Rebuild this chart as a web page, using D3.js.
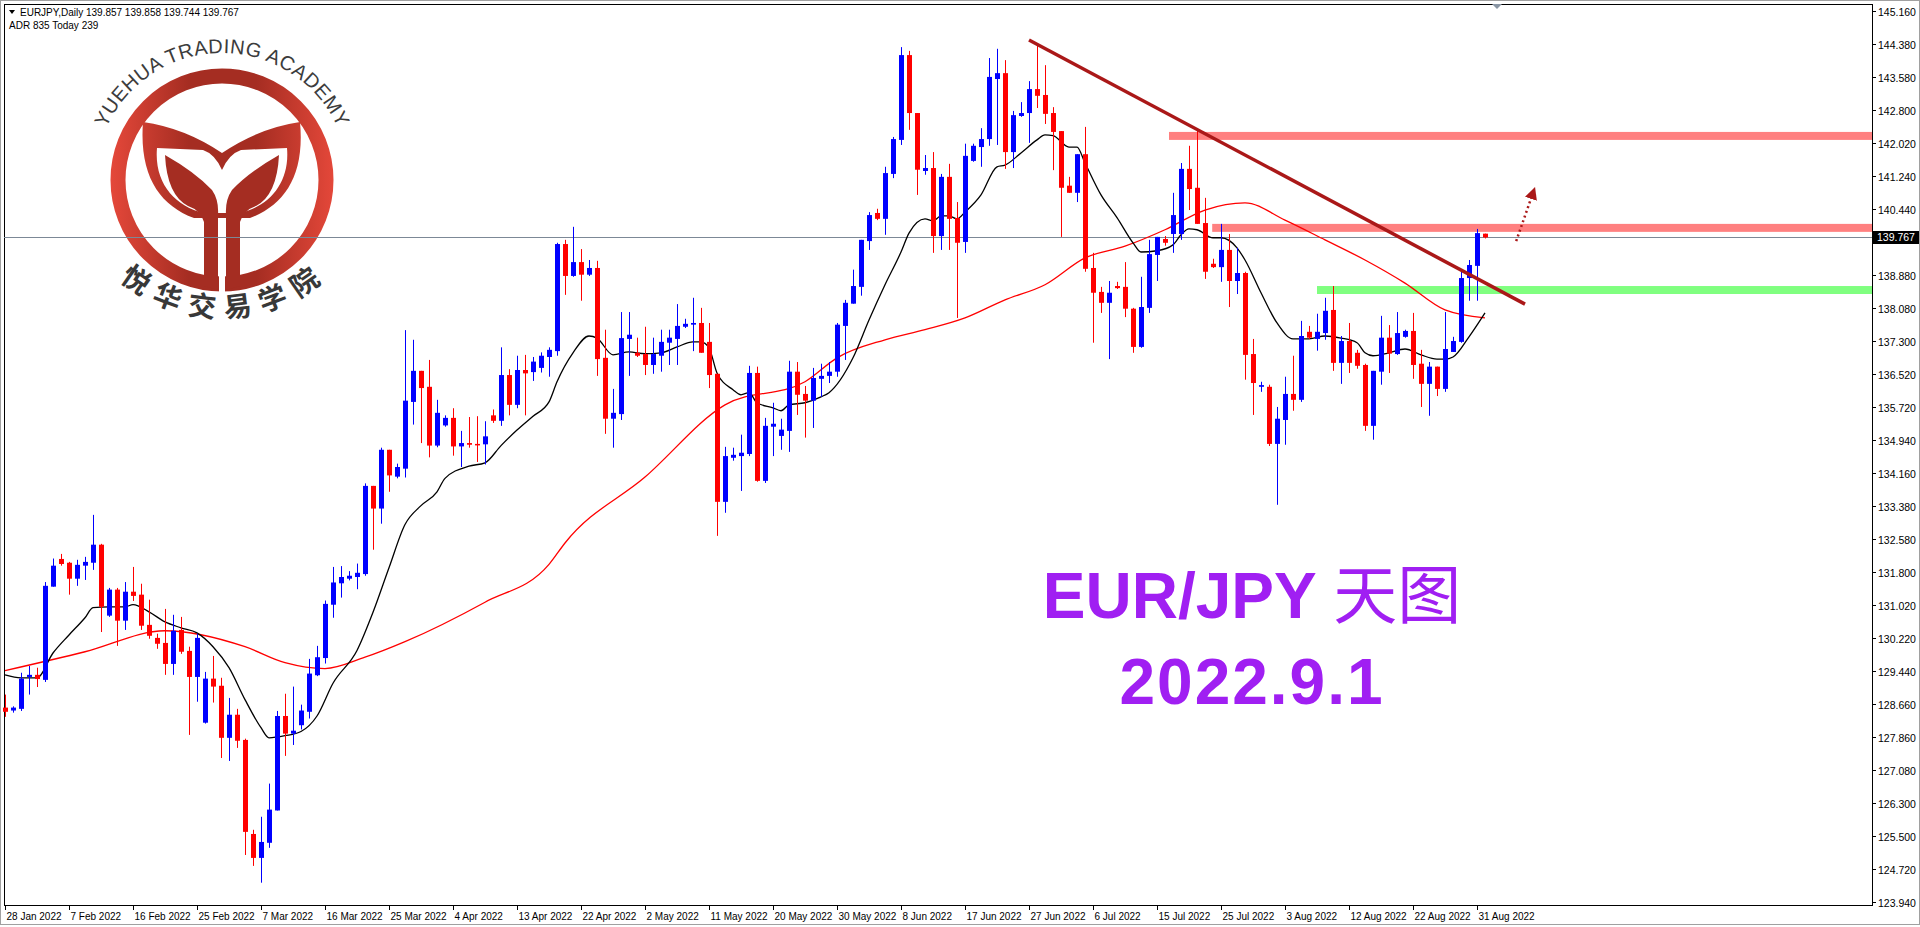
<!DOCTYPE html>
<html>
<head>
<meta charset="utf-8">
<script src="https://cdn.jsdelivr.net/npm/d3@7"></script>
<style>
  body { margin: 0; background: #fff; overflow: hidden; }
  svg { display: block; }
  text { font-family: "Liberation Sans", Arial, sans-serif; }
</style>
</head>
<body>
<script>
// daily candles, [open, high, low, close]
var ohlc = [
[128.57,128.88,128.35,128.47],[128.50,128.60,128.45,128.57],[128.54,129.40,128.49,129.26],[129.30,129.56,128.88,129.35],
[129.35,129.52,129.06,129.25],[129.23,131.56,129.18,131.47],[131.45,132.12,131.45,131.95],[132.11,132.23,131.95,131.99],
[132.02,132.04,131.26,131.64],[131.64,132.09,131.47,131.97],[131.95,132.16,131.61,132.04],[132.02,133.16,131.85,132.45],
[132.45,132.47,130.37,130.97],[130.76,131.42,130.73,131.38],[131.38,131.42,130.04,130.64],[130.64,131.56,130.42,131.33],
[131.33,131.92,131.11,131.23],[131.26,131.52,130.42,130.52],[130.54,131.14,130.21,130.28],[130.23,130.33,129.97,130.09],
[130.11,130.92,129.35,129.61],[129.61,130.78,129.35,130.40],[130.42,130.73,129.85,129.90],[129.92,130.02,127.92,129.30],
[129.30,130.33,128.71,130.23],[128.21,129.42,128.19,129.26],[129.26,129.80,128.69,129.07],[129.09,129.28,127.37,127.85],
[127.85,128.80,127.30,128.40],[128.40,128.54,127.61,127.78],[127.80,127.83,125.06,125.61],[125.56,125.66,124.80,124.99],
[124.99,125.97,124.40,125.37],[125.35,126.76,125.23,126.14],[126.12,128.49,126.12,128.37],[128.37,128.90,127.42,127.95],
[127.95,129.07,127.68,128.02],[128.15,128.64,128.05,128.50],[128.47,129.73,128.31,129.38],[129.34,130.04,129.32,129.77],
[129.75,131.12,129.62,131.04],[131.02,131.92,130.71,131.55],[131.53,131.94,131.19,131.68],[131.64,131.82,131.60,131.71],
[131.68,132.00,131.39,131.78],[131.75,133.91,131.71,133.85],[133.85,133.85,132.33,133.31],[133.31,134.76,132.95,134.71],
[134.71,134.71,133.71,134.10],[134.07,134.38,134.03,134.30],[134.26,137.56,134.05,135.88],[135.85,137.33,135.31,136.59],
[136.59,136.59,134.87,136.18],[136.21,136.85,134.53,134.81],[134.81,135.90,134.77,135.59],[135.29,135.53,135.26,135.47],
[135.47,135.70,134.57,134.79],[134.79,135.16,134.30,134.87],[134.87,135.49,134.76,134.83],[134.85,135.51,134.42,134.83],
[134.84,135.39,134.36,135.03],[135.53,135.67,135.35,135.40],[135.40,137.15,135.28,136.49],[136.49,136.63,135.53,135.78],
[135.78,136.95,135.70,136.61],[136.61,136.97,135.53,136.53],[136.56,136.92,136.35,136.81],[136.66,137.03,136.55,136.95],
[136.92,137.15,136.45,137.09],[137.06,139.64,136.95,139.61],[139.61,139.71,138.40,138.85],[138.85,140.02,138.83,139.18],
[139.18,139.49,138.26,138.88],[138.88,139.23,138.85,139.04],[139.04,139.21,136.47,136.87],[136.90,137.57,135.09,135.45],
[135.45,136.16,134.76,135.59],[135.56,137.99,135.42,137.37],[137.35,137.99,136.47,137.45],[137.02,137.38,136.92,136.95],
[136.99,137.64,136.49,136.73],[136.73,137.38,136.52,136.99],[136.95,137.57,136.57,137.28],[137.26,137.57,136.73,137.38],
[137.35,138.18,136.73,137.66],[137.64,137.83,137.61,137.71],[137.69,138.33,137.06,137.73],[137.73,138.09,137.02,137.02],
[137.28,137.73,136.18,136.49],[136.52,136.52,132.66,133.47],[133.47,134.78,133.21,134.56],[134.52,134.76,134.45,134.59],
[134.56,135.07,133.73,134.64],[134.61,136.71,134.56,136.54],[136.54,136.69,133.95,133.97],[133.97,135.47,133.92,135.28],
[135.26,135.83,134.56,135.33],[135.04,135.45,134.71,135.19],[135.16,136.83,134.66,136.57],[136.57,136.80,135.54,136.02],
[136.04,136.23,135.00,135.88],[135.88,136.66,135.23,136.42],[136.40,136.76,135.97,136.47],[136.47,136.80,136.30,136.57],
[136.57,137.73,136.45,137.69],[137.66,138.28,136.85,138.21],[138.19,139.00,138.19,138.61],[138.59,139.71,138.38,139.71],
[139.68,140.37,139.47,140.30],[140.35,140.45,140.18,140.21],[140.21,141.45,139.83,141.30],[141.28,142.16,141.18,142.11],
[142.09,144.30,141.97,144.11],[144.11,144.21,142.33,142.73],[142.73,142.73,140.78,141.38],[141.35,141.73,141.26,141.42],
[141.42,141.80,139.40,139.80],[139.80,141.28,139.47,141.21],[141.21,141.52,139.47,140.21],[140.23,140.61,137.85,139.64],
[139.66,142.00,139.40,141.71],[141.59,142.00,141.57,141.95],[141.92,142.37,141.45,142.11],[142.11,144.04,141.95,143.59],
[143.54,144.26,141.97,143.68],[143.68,143.99,141.40,141.80],[141.80,142.78,141.42,142.68],[142.66,142.99,142.64,142.73],
[142.73,143.49,142.02,143.30],[143.30,144.35,142.85,143.14],[143.16,143.87,142.47,142.71],[142.73,142.87,141.37,142.28],
[142.30,142.30,139.78,140.95],[141.00,141.21,140.83,140.83],[140.83,141.75,140.61,141.75],[141.75,142.40,138.95,139.02],
[139.04,139.40,137.26,138.45],[138.47,138.59,137.97,138.21],[138.21,138.73,136.87,138.45],[138.61,138.71,138.54,138.56],
[138.59,139.18,137.87,138.07],[138.07,138.09,137.02,137.16],[137.16,138.83,137.14,138.11],[138.09,139.71,137.97,139.37],
[139.35,139.78,138.73,139.78],[139.73,139.80,139.57,139.64],[139.85,140.83,139.40,140.30],[139.85,141.54,139.71,141.40],
[141.40,141.95,140.42,140.92],[140.95,142.33,140.09,140.09],[140.11,140.71,138.78,138.95],[139.14,139.26,139.04,139.06],
[139.06,140.09,138.71,139.47],[139.47,139.85,138.11,138.73],[138.73,139.52,138.42,138.92],[138.92,138.95,136.38,136.97],
[136.99,137.35,135.54,136.30],[136.21,136.33,136.09,136.25],[136.21,136.26,134.80,134.85],[134.85,135.73,133.40,135.45],
[135.42,136.45,134.83,136.04],[136.04,136.95,135.64,135.90],[135.90,137.78,135.85,137.42],[137.52,137.66,137.35,137.38],
[137.35,137.95,137.07,137.52],[137.49,138.33,137.33,138.02],[138.04,138.61,136.59,136.78],[136.78,137.42,136.28,137.30],
[137.30,137.73,136.54,136.78],[137.02,137.09,136.64,136.71],[136.73,136.76,135.16,135.28],[135.28,136.59,134.95,136.59],
[136.57,137.90,136.26,137.38],[137.38,137.68,136.54,137.00],[136.99,137.99,136.97,137.49],[137.40,137.57,137.38,137.54],
[137.54,137.97,136.40,136.73],[136.76,137.09,135.73,136.28],[136.28,136.80,135.52,136.69],[136.69,136.69,135.99,136.16],
[136.16,137.99,136.09,137.11],[137.04,137.40,137.04,137.30],[137.28,138.95,137.26,138.80],[138.80,139.23,138.26,139.11],
[139.09,139.97,138.26,139.87],[139.857,139.858,139.744,139.767]
];

// fast moving average (black), [bar, value]
var maFast = [
[0,129.35],[2,129.28],[4,129.28],[6,129.87],[8,130.30],[10,130.71],[11,130.95],[13,130.97],[15,130.97],[16,131.02],
[18,130.85],[20,130.61],[22,130.47],[24,130.35],[26,130.02],[28,129.52],[30,128.76],[32,128.09],[33,127.85],[35,127.90],
[37,128.00],[39,128.37],[41,129.15],[44,129.93],[46,130.84],[48,131.90],[50,132.93],[52,133.38],[54,133.71],[55,134.03],
[58,134.32],[60,134.40],[62,134.81],[64,135.18],[66,135.51],[68,135.85],[69,136.33],[71,137.02],[73,137.42],[74,137.37],
[76,136.97],[78,137.04],[80,137.00],[82,137.02],[84,137.16],[86,137.28],[87,137.28],[88,137.14],[89,136.54],[91,136.14],
[92,136.02],[93,136.07],[94,135.83],[96,135.71],[97,135.64],[98,135.78],[100,135.83],[102,135.97],[103,136.07],[106,136.90],
[108,137.80],[110,138.64],[112,139.42],[113,139.87],[115,140.21],[116,140.16],[117,140.28],[118,140.28],[119,140.21],[120,140.37],
[122,140.78],[124,141.45],[125,141.49],[127,141.78],[129,142.09],[130,142.21],[131,142.19],[133,141.92],[134,141.92],[135,141.54],
[137,140.78],[139,140.24],[141,139.64],[142,139.42],[144,139.45],[146,139.59],[147,139.83],[148,139.97],[149,139.95],[151,139.76],
[152,139.76],[154,139.52],[155,139.23],[157,138.45],[159,137.73],[161,137.35],[163,137.35],[165,137.42],[167,137.37],[169,137.26],
[170,137.02],[171,136.95],[173,137.02],[175,137.11],[177,136.97],[179,136.87],[180,136.87],[181,136.92],[183,137.40],[185,137.97]
];

// slow moving average (red), [bar, value]
var maSlow = [
[0,129.45],[10,129.90],[20,130.40],[30,130.02],[35,129.64],[40,129.50],[45,129.77],[50,130.14],[60,131.08],[68,131.98],
[70,132.49],[80,134.06],[90,135.78],[100,136.33],[104,136.90],[110,137.33],[115,137.57],[120,137.85],[125,138.28],[130,138.64],
[135,139.28],[140,139.56],[145,139.95],[150,140.42],[155,140.59],[160,140.18],[165,139.71],[170,139.23],[175,138.68],[180,138.04],
[185,137.85]
];

var priceTicks = [145.160,144.380,143.580,142.800,142.020,141.240,140.440,139.660,138.880,138.080,137.300,136.520,135.720,
  134.940,134.160,133.380,132.580,131.800,131.020,130.220,129.440,128.660,127.860,127.080,126.300,125.500,124.720,123.940];

var dateLabels = ["28 Jan 2022","7 Feb 2022","16 Feb 2022","25 Feb 2022","7 Mar 2022","16 Mar 2022","25 Mar 2022",
  "4 Apr 2022","13 Apr 2022","22 Apr 2022","2 May 2022","11 May 2022","20 May 2022","30 May 2022","8 Jun 2022",
  "17 Jun 2022","27 Jun 2022","6 Jul 2022","15 Jul 2022","25 Jul 2022","3 Aug 2022","12 Aug 2022","22 Aug 2022","31 Aug 2022"];

// zones [fromBar, low, high, colour]
var zones = [[145.5,142.09,142.28,"#ff8080"],[150.9,139.90,140.09,"#ff8080"],[164,138.42,138.61,"#80ff80"]];
var trend = [[128,144.47],[190,138.18]];
var arrowPts = [[188.9,139.68],[191,140.83]];
var lastPrice = 139.767;

var W = 1920, H = 927, L = 4, R = 1872, T = 4, B = 905;

var svg = d3.select('body').append('svg').attr('width', W).attr('height', H);

var x = d3.scaleLinear().domain([0, 185]).range([5, 1485]);
var y = d3.scaleLinear().domain([123.94, 145.16]).range([902, 11]);

/** LOGO **/
var cx = 222, cy = 180;
var defs = svg.append('defs');
var g1 = defs.append('linearGradient').attr('id', 'ring').attr('gradientUnits', 'userSpaceOnUse')
  .attr('x1', 110).attr('x2', 335).attr('y1', 0).attr('y2', 0);
g1.append('stop').attr('offset', '0%').attr('stop-color', '#e5483a');
g1.append('stop').attr('offset', '35%').attr('stop-color', '#a52d22');
g1.append('stop').attr('offset', '65%').attr('stop-color', '#a52d22');
g1.append('stop').attr('offset', '100%').attr('stop-color', '#e5483a');

var logo = svg.append('g');
logo.append('circle').attr('cx', cx).attr('cy', cy).attr('r', 104)
  .attr('fill', 'none').attr('stroke', 'url(#ring)').attr('stroke-width', 15);
// cup
logo.append('path')
  .attr('d', 'M143,122 Q185,128 222,153 Q259,128 300,122 C305,175 285,205 250,218 L194,218 C159,205 139,175 143,122 Z')
  .attr('fill', 'url(#ring)');
logo.append('path')
  .attr('d', 'M157,148 L203,150 Q215,154 222,170 Q229,154 241,150 L287,148 C290,182 270,206 240,213 L204,213 C174,206 154,182 157,148 Z')
  .attr('fill', '#fff');
// inner leaves and stems
logo.append('path')
  .attr('d', 'M165,155 Q195,172 212,190 Q219,200 218,215 L218,290 L204,286 L204,222 Q200,210 188,206 Q167,195 165,155 Z')
  .attr('fill', '#a52d22');
logo.append('path')
  .attr('d', 'M279,155 Q249,172 232,190 Q225,200 226,215 L226,290 L240,286 L240,222 Q244,210 256,206 Q277,195 279,155 Z')
  .attr('fill', '#a52d22');
logo.append('rect').attr('x', 219).attr('y', 262).attr('width', 6).attr('height', 34).attr('fill', '#fff');
logo.append('path').attr('id', 'arcTop')
  .attr('d', 'M' + (cx - 127) + ',' + cy + ' A127,127 0 0 1 ' + (cx + 127) + ',' + cy).attr('fill', 'none');
logo.append('path').attr('id', 'arcBot')
  .attr('d', 'M' + (cx - 132) + ',' + (cy - 20) + ' A132,132 0 0 0 ' + (cx + 132) + ',' + (cy - 20)).attr('fill', 'none');
logo.append('text').attr('font-size', 20).attr('fill', '#3c3c3c').attr('letter-spacing', 0.5)
  .append('textPath').attr('href', '#arcTop').attr('startOffset', '50%').attr('text-anchor', 'middle')
  .text('YUEHUA TRADING ACADEMY');
logo.append('text').attr('font-size', 28).attr('font-weight', 'bold').attr('fill', '#383838')
  .attr('letter-spacing', 4).style('font-family', '"Noto Sans CJK SC", sans-serif')
  .append('textPath').attr('href', '#arcBot').attr('startOffset', '50%').attr('text-anchor', 'middle')
  .attr('dominant-baseline', 'hanging')
  .text('悦华交易学院');

/** FRAME **/
svg.append('rect').attr('x', 0.5).attr('y', 0.5).attr('width', W - 1).attr('height', H - 3)
  .attr('fill', 'none').attr('stroke', '#a0a0a0');
svg.append('rect').attr('x', L + 0.5).attr('y', T + 0.5).attr('width', R - L).attr('height', B - T)
  .attr('fill', 'none').attr('stroke', '#000');

/** ZONES **/
svg.append('g').selectAll('rect').data(zones).join('rect')
  .attr('x', function (d) { return x(d[0]); })
  .attr('width', function (d) { return R - x(d[0]); })
  .attr('y', function (d) { return y(d[2]); })
  .attr('height', function (d) { return y(d[1]) - y(d[2]); })
  .attr('fill', function (d) { return d[3]; });

// current price line
svg.append('line').attr('x1', L).attr('x2', R).attr('y1', Math.round(y(lastPrice)) + 0.5).attr('y2', Math.round(y(lastPrice)) + 0.5)
  .attr('stroke', '#7c8896').attr('stroke-width', 1);

/** MOVING AVERAGES **/
var maLine = d3.line().x(function (d) { return x(d[0]); }).y(function (d) { return y(d[1]); }).curve(d3.curveMonotoneX);
svg.append('path').attr('d', maLine(maSlow)).attr('fill', 'none').attr('stroke', '#ff0000').attr('stroke-width', 1.3);
svg.append('path').attr('d', maLine(maFast)).attr('fill', 'none').attr('stroke', '#000').attr('stroke-width', 1.3);

/** CANDLES **/
var candles = svg.append('g');
ohlc.forEach(function (d, i) {
  var col = d[3] >= d[0] ? '#0000ff' : '#ff0000';
  var cxp = Math.round(x(i));
  candles.append('rect').attr('x', cxp).attr('width', 1)
    .attr('y', y(d[1])).attr('height', Math.max(1, y(d[2]) - y(d[1]))).attr('fill', col);
  var top = y(Math.max(d[0], d[3])), bot = y(Math.min(d[0], d[3]));
  candles.append('rect').attr('x', cxp - 2).attr('width', 5)
    .attr('y', top).attr('height', Math.max(1.5, bot - top)).attr('fill', col);
});

/** TRENDLINE + ARROW **/
svg.append('line')
  .attr('x1', x(trend[0][0])).attr('y1', y(trend[0][1]))
  .attr('x2', x(trend[1][0])).attr('y2', y(trend[1][1]))
  .attr('stroke', '#aa1818').attr('stroke-width', 3.5);
var m = defs.append('marker').attr('id', 'ah').attr('viewBox', '0 0 10 10').attr('refX', 5).attr('refY', 5)
  .attr('markerWidth', 5).attr('markerHeight', 5).attr('orient', 'auto');
m.append('path').attr('d', 'M0,0 L10,5 L0,10 Z').attr('fill', '#aa1818');
svg.append('line')
  .attr('x1', x(arrowPts[0][0])).attr('y1', y(arrowPts[0][1]))
  .attr('x2', x(arrowPts[1][0])).attr('y2', y(arrowPts[1][1]))
  .attr('stroke', '#aa1818').attr('stroke-width', 2.5).attr('stroke-dasharray', '2,3')
  .attr('marker-end', 'url(#ah)');

/** AXES **/
var ly = Math.round(y(lastPrice));
var ya = svg.append('g');
priceTicks.forEach(function (p) {
  var yy = Math.round(y(p)) + 0.5;
  ya.append('line').attr('x1', R).attr('x2', R + 4).attr('y1', yy).attr('y2', yy).attr('stroke', '#000');
  // the label right under the price box is covered by it
  if (Math.abs(yy - ly) > 8) {
    ya.append('text').attr('x', R + 6).attr('y', yy + 4).attr('font-size', 10.5).attr('fill', '#000').text(p.toFixed(3));
  }
});
ya.append('rect').attr('x', R + 1).attr('y', ly - 6).attr('width', 46).attr('height', 13).attr('fill', '#000');
ya.append('text').attr('x', R + 5).attr('y', ly + 4).attr('font-size', 10.5).attr('fill', '#fff').text(lastPrice.toFixed(3));

var xa = svg.append('g');
dateLabels.forEach(function (lab, k) {
  var xx = Math.round(x(k * 8)) + 0.5;
  xa.append('line').attr('x1', xx).attr('x2', xx).attr('y1', B).attr('y2', B + 5).attr('stroke', '#000');
  xa.append('text').attr('x', xx + 1).attr('y', B + 15).attr('font-size', 10).attr('fill', '#000').text(lab);
});

// shift marker on top
svg.append('path').attr('d', 'M1492,4 L1502,4 L1497,9 Z').attr('fill', '#8a96a4');

/** HEADER **/
svg.append('path').attr('d', 'M9,10 L15,10 L12,14 Z').attr('fill', '#000');
svg.append('text').attr('x', 20).attr('y', 16).attr('font-size', 10).attr('fill', '#000')
  .text('EURJPY,Daily  139.857 139.858 139.744 139.767');
svg.append('text').attr('x', 9).attr('y', 29).attr('font-size', 10).attr('fill', '#000')
  .text('ADR 835  Today 239');

/** TITLE **/
svg.append('text').attr('x', 1252).attr('y', 618).attr('text-anchor', 'middle')
  .attr('font-size', 64).attr('font-weight', 'bold').attr('fill', '#a01ff2')
  .html('EUR/JPY <tspan style="font-family:\'Noto Sans CJK SC\'" font-weight="normal">天图</tspan>');
svg.append('text').attr('x', 1252).attr('y', 704).attr('text-anchor', 'middle')
  .attr('font-size', 64).attr('font-weight', 'bold').attr('fill', '#a01ff2').attr('letter-spacing', 2)
  .text('2022.9.1');
</script>
</body>
</html>
